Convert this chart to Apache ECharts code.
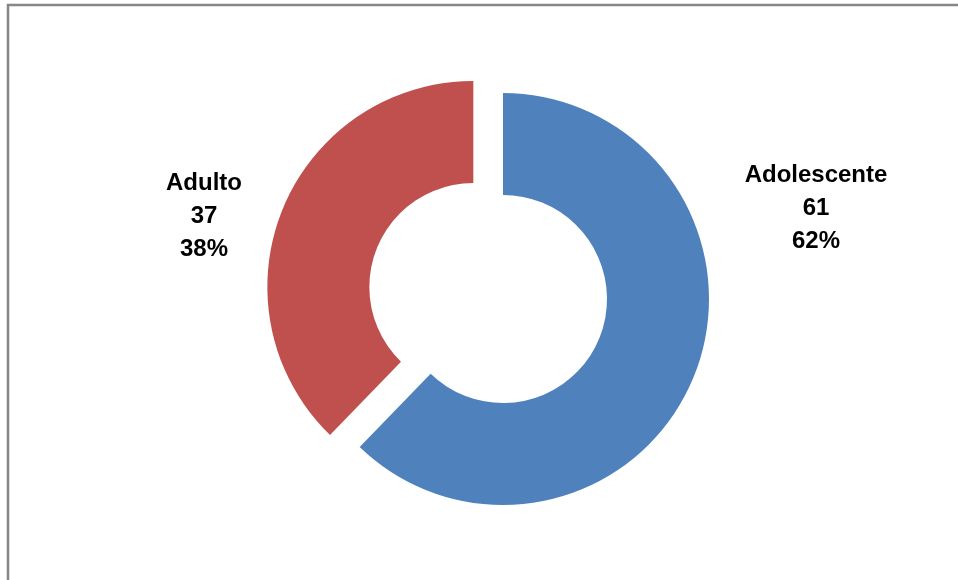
<!DOCTYPE html>
<html>
<head>
<meta charset="utf-8">
<script src="https://cdn.jsdelivr.net/npm/echarts@6/dist/echarts.min.js"></script>
<style>html,body{margin:0;padding:0;background:#fff}#c{width:958px;height:580px}</style>
</head>
<body>
<div id="c"></div>
<script>
const categories = ['Adolescente', 'Adulto'];
const values = [61, 37];
const percents = ['62%', '38%'];
const colors = ['#4F81BD', '#C0504D'];
const labelPos = [[816, 208], [204, 216]];

const chart = echarts.init(document.getElementById('c'), null, {renderer: 'canvas'});
const labelTexts = categories.map(function (c, i) {
  return {
    type: 'text',
    x: labelPos[i][0],
    y: labelPos[i][1],
    silent: true,
    style: {
      text: c + '\n' + values[i] + '\n' + percents[i],
      fill: '#000',
      font: 'bold 24px "Liberation Sans", Arial, sans-serif',
      lineHeight: 33,
      align: 'center',
      verticalAlign: 'middle'
    }
  };
});
chart.setOption({
  animation: false,
  backgroundColor: '#ffffff',
  graphic: [{
    type: 'rect',
    shape: {x: 8, y: 5, width: 1200, height: 1000},
    style: {fill: 'none', stroke: '#868686', lineWidth: 2.5},
    silent: true
  }].concat(labelTexts),
  series: [{
    type: 'pie',
    center: [503, 299],
    radius: [104, 206],
    startAngle: 90,
    clockwise: true,
    selectedMode: 'multiple',
    selectedOffset: 32,
    emphasis: {disabled: true},
    labelLine: {show: false},
    label: {show: false},
    data: categories.map(function (c, i) {
      return {name: c, value: values[i], selected: i === 1, itemStyle: {color: colors[i]}};
    })
  }]
});
</script>
</body>
</html>
